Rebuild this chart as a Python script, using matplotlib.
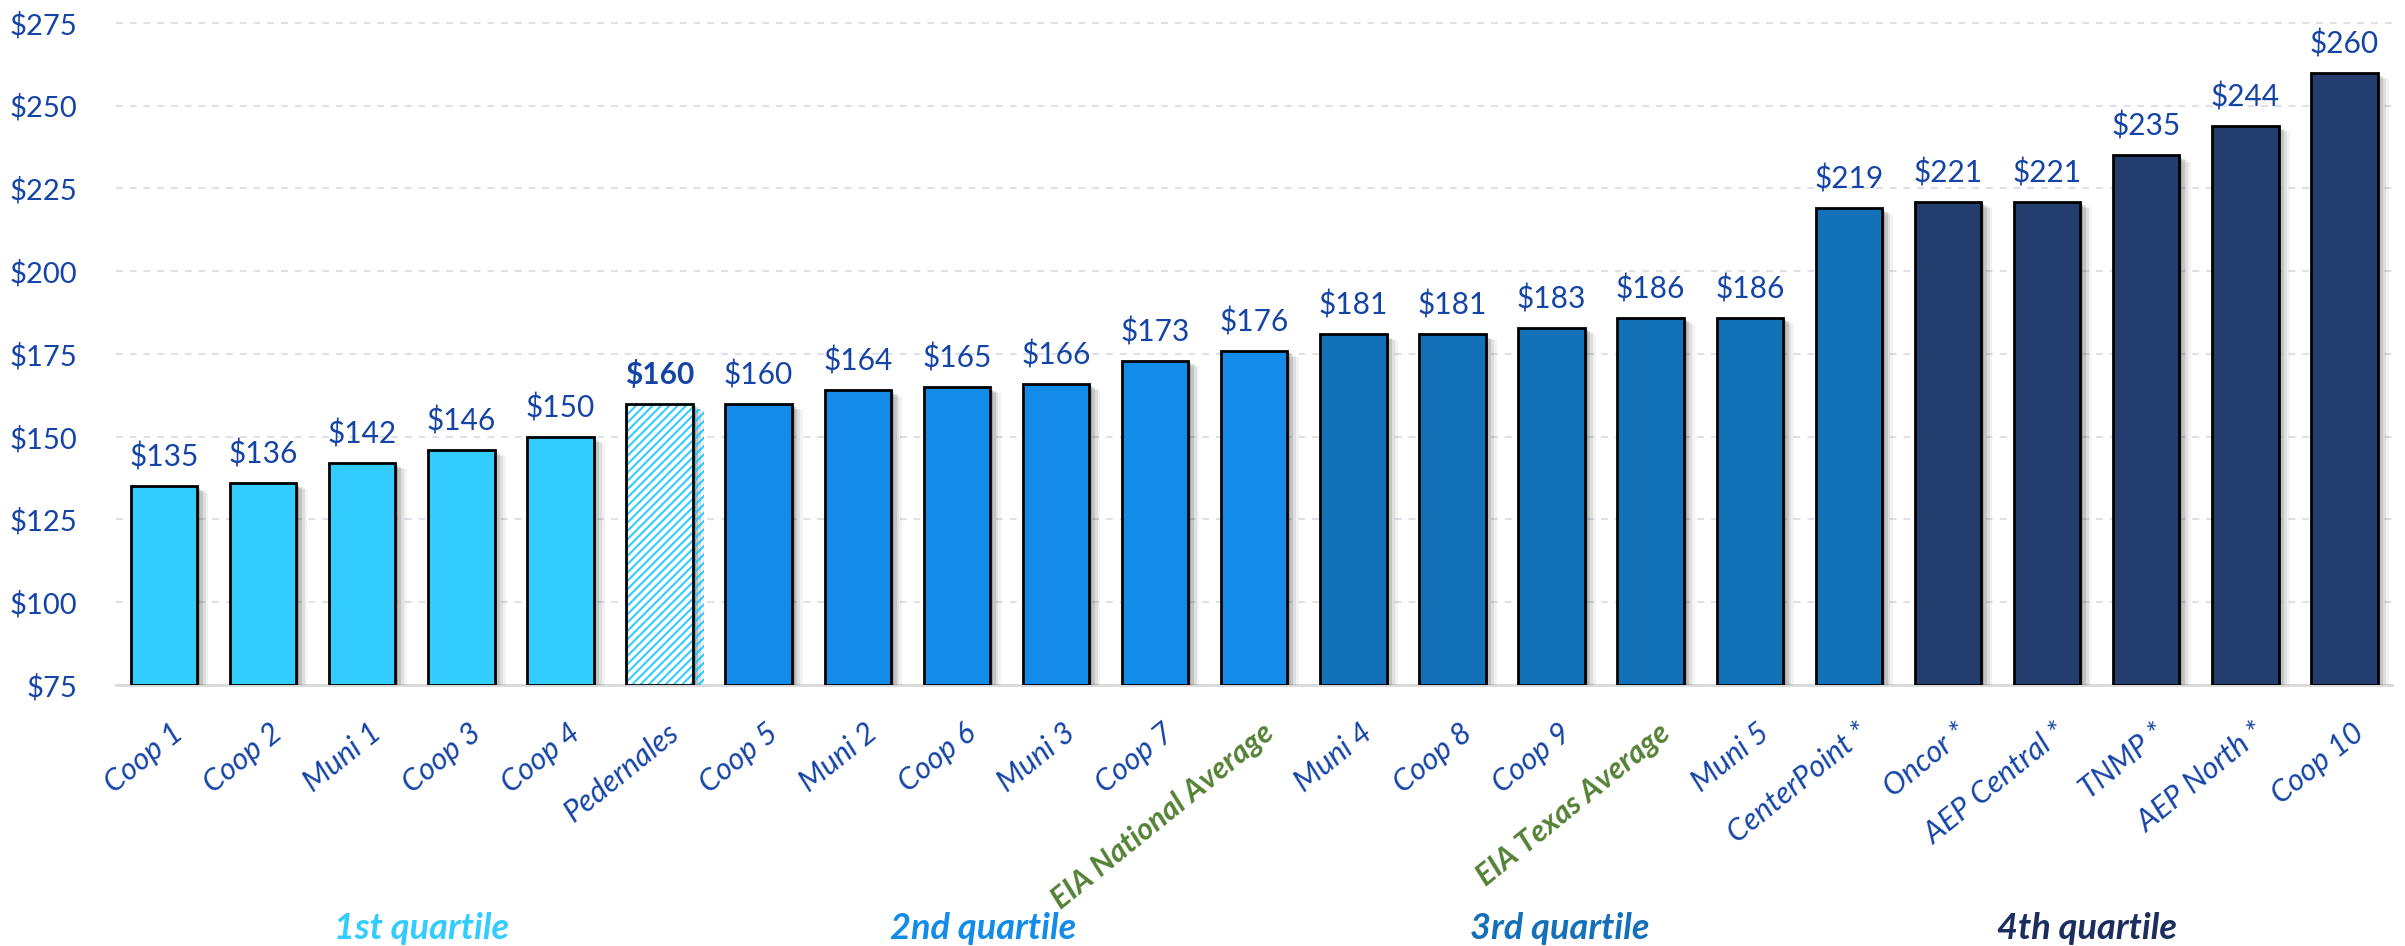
import matplotlib
matplotlib.use('Agg')
import matplotlib.pyplot as plt
import matplotlib.patheffects as pe
import matplotlib.transforms as mtransforms

plt.rcParams['font.family'] = ['Lato', 'DejaVu Sans']
plt.rcParams['hatch.linewidth'] = 1.5

# ---- data ----
categories = ['Coop 1', 'Coop 2', 'Muni 1', 'Coop 3', 'Coop 4', 'Pedernales',
              'Coop 5', 'Muni 2', 'Coop 6', 'Muni 3', 'Coop 7', 'EIA National Average',
              'Muni 4', 'Coop 8', 'Coop 9', 'EIA Texas Average', 'Muni 5', 'CenterPoint *',
              'Oncor *', 'AEP Central *', 'TNMP *', 'AEP North *', 'Coop 10']
values = [135, 136, 142, 146, 150, 160, 160, 164, 165, 166, 173, 176,
          181, 181, 183, 186, 186, 219, 221, 221, 235, 244, 260]
groups = ['q1'] * 5 + ['ped'] + ['q2'] * 6 + ['q3'] * 6 + ['q4'] * 5
highlight_labels = ['EIA National Average', 'EIA Texas Average']
quartile_names = ['1st quartile', '2nd quartile', '3rd quartile', '4th quartile']
quartile_keys = ['q1', 'q2', 'q3', 'q4']
yticks = [75, 100, 125, 150, 175, 200, 225, 250, 275]

# ---- styles ----
bar_colors = {'q1': '#33CCFF', 'ped': '#FFFFFF', 'q2': '#128CE8',
              'q3': '#1371B8', 'q4': '#233D6E'}
quartile_text_colors = {'q1': '#33CCFF', 'q2': '#128CE8', 'q3': '#1470B8', 'q4': '#1B2E5E'}
quartile_x = [2.6, 8.27, 14.08, 19.4]
text_blue = '#1444A6'
green = '#548235'

W, H = 2405, 946
fig = plt.figure(figsize=(W / 100, H / 100), dpi=100)
left_px, right_px = 116, 2392
bottom_px = 685
ppu = 662 / 200.0
top_px = bottom_px - 201 * ppu
ax = fig.add_axes([left_px / W, 1 - bottom_px / H, (right_px - left_px) / W,
                   (bottom_px - top_px) / H])

x = list(range(len(categories)))
shadow = [pe.SimplePatchShadow(offset=(2, -1.5), shadow_rgbFace='#000000', alpha=0.16),
          pe.SimplePatchShadow(offset=(4, -2.5), shadow_rgbFace='#000000', alpha=0.12),
          pe.SimplePatchShadow(offset=(6, -3.5), shadow_rgbFace='#000000', alpha=0.08),
          pe.SimplePatchShadow(offset=(8, -4.5), shadow_rgbFace='#000000', alpha=0.05),
          pe.Normal()]

for i, (v, g) in enumerate(zip(values, groups)):
    if g == 'ped':
        b = ax.bar(i, v - 75, bottom=75, width=0.67, color='white',
                   edgecolor='#33CCFF', hatch='////', linewidth=0, zorder=3)
        b[0].set_path_effects(shadow)
        ax.bar(i, v - 75, bottom=75, width=0.67, fill=False,
               edgecolor='black', linewidth=2, zorder=4)
    else:
        b = ax.bar(i, v - 75, bottom=75, width=0.67, color=bar_colors[g],
                   edgecolor='black', linewidth=2, zorder=3)
        b[0].set_path_effects(shadow)
    ax.annotate(f'${v}', xy=(i, v), xytext=(0, 14), textcoords='offset points',
                ha='center', va='baseline', fontsize=21.5, color=text_blue,
                fontweight='bold' if g == 'ped' else 'normal', zorder=5)

# category labels
for i, lab in enumerate(categories):
    hl = lab in highlight_labels
    ax.annotate(lab, xy=(i, 0), xycoords=('data', 'axes fraction'),
                xytext=(5, -24), textcoords='offset points',
                rotation=39, rotation_mode='anchor', ha='right', va='top',
                fontsize=22, fontstyle='italic',
                fontweight='bold' if hl else 'normal',
                color=green if hl else text_blue, annotation_clip=False)

# quartile labels
qtrans = mtransforms.blended_transform_factory(ax.transData, fig.transFigure)
for name, key, qx in zip(quartile_names, quartile_keys, quartile_x):
    ax.text(qx, 1 - 928 / H, name, transform=qtrans,
            ha='center', va='center', fontsize=26, fontstyle='italic',
            fontweight='bold', color=quartile_text_colors[key])

ax.set_xlim(-0.484, 22.48)
ax.set_ylim(75, 276)
ax.set_xticks(x)
ax.set_xticklabels([''] * len(x))
ax.set_yticks(yticks)
ax.set_yticklabels([f'${t}' for t in yticks])
ax.tick_params(axis='y', length=0, pad=28, labelsize=21, labelcolor=text_blue)
ax.tick_params(axis='x', length=0)
ax.grid(axis='y', color='#DDE2EA', linewidth=1.5, linestyle=(0, (3.3, 3.3)), zorder=0)
ax.set_axisbelow(True)
for s in ['left', 'right', 'top']:
    ax.spines[s].set_visible(False)
ax.spines['bottom'].set_color('#D9D9D9')
ax.spines['bottom'].set_linewidth(2)
ax.spines['bottom'].set_zorder(2)

fig.savefig('out.png', dpi=100)
